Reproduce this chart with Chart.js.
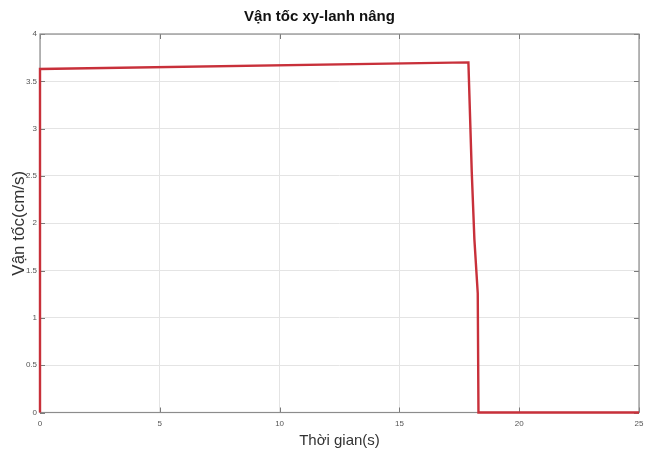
<!DOCTYPE html>
<html>
<head>
<meta charset="utf-8">
<script src="https://cdn.jsdelivr.net/npm/chart.js@4/dist/chart.umd.min.js"></script>
<style>
  html, body { margin: 0; padding: 0; background: #ffffff; }
  #wrap { width: 654px; height: 454px; }
</style>
</head>
<body>
<div id="wrap"><canvas id="c" width="654" height="454"></canvas></div>
<script>
// Data
const timeValues = [0, 0, 17.88, 18.02, 18.13, 18.27, 18.30, 25];
const speedValues = [0, 3.63, 3.70, 2.54, 1.83, 1.26, 0, 0];
const xTicks = [0, 5, 10, 15, 20, 25];
const yTicks = [0, 0.5, 1, 1.5, 2, 2.5, 3, 3.5, 4];
const chartTitle = 'Vận tốc xy-lanh nâng';
const xTitle = 'Thời gian(s)';
const yTitle = 'Vận tốc(cm/s)';

const points = timeValues.map((t, i) => ({ x: t, y: speedValues[i] }));

const boxPlugin = {
  id: 'matlabBox',
  beforeDatasetsDraw(chart) {
    const { ctx, chartArea: a, scales } = chart;
    ctx.save();
    // inward tick marks
    ctx.strokeStyle = '#7a7a7a';
    ctx.lineWidth = 1;
    ctx.beginPath();
    xTicks.forEach(v => {
      const px = Math.round(scales.x.getPixelForValue(v)) + 0.5;
      ctx.moveTo(px, a.bottom); ctx.lineTo(px, a.bottom - 5);
      ctx.moveTo(px, a.top); ctx.lineTo(px, a.top + 5);
    });
    yTicks.forEach(v => {
      const py = Math.round(scales.y.getPixelForValue(v)) + 0.5;
      ctx.moveTo(a.left, py); ctx.lineTo(a.left + 5, py);
      ctx.moveTo(a.right, py); ctx.lineTo(a.right - 5, py);
    });
    ctx.stroke();
    // box
    ctx.strokeStyle = '#8c8c8c';
    ctx.lineWidth = 1.2;
    ctx.strokeRect(a.left, a.top, a.right - a.left, a.bottom - a.top);
    ctx.restore();
  }
};

new Chart(document.getElementById('c'), {
  type: 'scatter',
  data: {
    datasets: [{
      data: points,
      showLine: true,
      borderColor: '#c8303a',
      backgroundColor: '#c8303a',
      borderWidth: 2.4,
      pointRadius: 0,
      tension: 0,
      clip: false
    }]
  },
  options: {
    responsive: false,
    animation: false,
    layout: { padding: { top: 0, right: 15, bottom: 0, left: 0 } },
    plugins: {
      legend: { display: false },
      tooltip: { enabled: false },
      title: {
        display: true,
        text: chartTitle,
        color: '#111111',
        font: { family: "'Liberation Sans Narrow', 'Arial Narrow', 'Liberation Sans', sans-serif", size: 15, weight: 'bold' },
        padding: { top: 8, bottom: 8 }
      }
    },
    scales: {
      x: {
        type: 'linear',
        min: 0,
        max: 25,
        afterBuildTicks: (s) => { s.ticks = xTicks.map(v => ({ value: v })); },
        afterFit: (s) => { s.height = 41.5; },
        ticks: {
          color: '#555555',
          font: { family: "'Liberation Sans Narrow', 'Liberation Sans', sans-serif", size: 8 },
          padding: 6,
          maxRotation: 0,
          callback: (v) => String(v)
        },
        grid: { color: '#e4e4e4', drawTicks: false, lineWidth: 1 },
        border: { display: false },
        title: {
          display: true,
          text: xTitle,
          color: '#333333',
          font: { family: "'Liberation Sans', Arial, sans-serif", size: 15 },
          padding: { top: 0, bottom: 4 }
        }
      },
      y: {
        type: 'linear',
        min: 0,
        max: 4,
        afterBuildTicks: (s) => { s.ticks = yTicks.map(v => ({ value: v })); },
        afterFit: (s) => { s.width = 40; },
        ticks: {
          color: '#555555',
          font: { family: "'Liberation Sans Narrow', 'Liberation Sans', sans-serif", size: 8 },
          padding: 3,
          callback: (v) => String(v)
        },
        grid: { color: '#e4e4e4', drawTicks: false, lineWidth: 1 },
        border: { display: false },
        title: {
          display: true,
          text: yTitle,
          color: '#333333',
          font: { family: "'Liberation Sans', Arial, sans-serif", size: 17 },
          padding: { top: 9, bottom: 0 }
        }
      }
    }
  },
  plugins: [boxPlugin]
});
</script>
</body>
</html>
